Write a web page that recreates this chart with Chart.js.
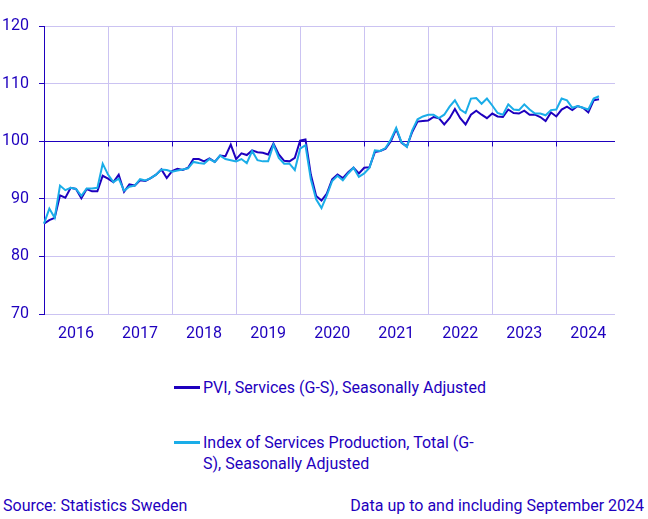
<!DOCTYPE html>
<html>
<head>
<meta charset="utf-8">
<script src="https://cdn.jsdelivr.net/npm/chart.js@4"></script>
<style>
    body { margin: 0; background: #fff; font-family: Roboto, sans-serif; color: #1E00BE; }
    #wrap { position: relative; width: 648px; height: 519px; overflow: hidden; }
    #chartBox { position: absolute; left: 0; top: 0; width: 648px; height: 350px; }
    #legend { position: absolute; left: 174px; top: 377px; }
    .item { display: flex; align-items: flex-start; margin-bottom: 34px; }
    .swatch { width: 26px; height: 3px; margin-top: 9px; margin-right: 3px; flex: none; }
    .text { width: 285px; font-size: 16px; line-height: 21px; }
    .foot { position: absolute; top: 496px; font-size: 16px; line-height: 20px; }
</style>
</head>
<body>
<div id="wrap">
    <div id="chartBox"><canvas id="chart"></canvas></div>
    <div id="legend"></div>
    <div class="foot" style="left:3px">Source: Statistics Sweden</div>
    <div class="foot" style="right:4px">Data up to and including September 2024</div>
</div>
<script>
// Monthly data, Jan 2016 - Sep 2024
const years = [2016, 2017, 2018, 2019, 2020, 2021, 2022, 2023, 2024];
const yTicks = [70, 80, 90, 100, 110, 120];

const pvi = [
    85.7, 86.3, 86.7, 90.6, 90.2, 91.9, 91.7, 90.1, 91.7, 91.3, 91.3, 94.0,
    93.5, 92.9, 94.2, 91.2, 92.5, 92.3, 93.2, 93.1, 93.6, 94.2, 95.1, 93.6,
    94.8, 95.2, 95.0, 95.4, 96.9, 96.9, 96.5, 97.0, 96.4, 97.5, 97.4, 99.4,
    96.9, 97.9, 97.6, 98.4, 98.1, 98.0, 97.7, 99.6, 97.7, 96.6, 96.5, 97.1,
    100.1, 100.3, 94.2, 90.5, 89.7, 90.9, 93.4, 94.2, 93.6, 94.6, 95.4, 94.4,
    95.4, 95.5, 98.1, 98.3, 98.7, 100.0, 102.1, 99.7, 99.1, 101.6, 103.4, 103.5,
    103.6, 104.2, 104.0, 102.9, 104.0, 105.6, 104.0, 102.9, 104.6, 105.3, 104.6, 104.0,
    104.8, 104.3, 104.2, 105.5, 104.9, 104.8, 105.3, 104.6, 104.6, 104.2, 103.5, 105.0,
    104.3, 105.5, 106.0, 105.4, 106.1, 105.8, 105.0, 107.1, 107.3
];

const services = [
    85.7, 88.3, 86.7, 92.3, 91.5, 91.9, 91.7, 90.5, 91.8, 91.8, 91.9, 96.1,
    94.2, 92.9, 93.5, 91.4, 92.1, 92.3, 93.4, 93.2, 93.6, 94.2, 95.1, 95.0,
    94.7, 94.9, 95.1, 95.3, 96.4, 96.2, 96.1, 96.9, 96.4, 97.5, 96.9, 96.7,
    96.5, 96.9, 96.2, 98.3, 96.7, 96.5, 96.5, 99.4, 97.1, 96.1, 96.1, 95.0,
    98.7, 99.3, 93.4, 89.9, 88.4, 90.6, 93.1, 94.0, 93.2, 94.4, 95.4, 93.8,
    94.4, 95.4, 98.4, 98.3, 98.8, 100.3, 102.3, 99.8, 99.0, 101.9, 103.8, 104.3,
    104.6, 104.6, 104.0, 104.6, 106.0, 107.1, 105.5, 104.9, 107.4, 107.5, 106.5, 107.4,
    106.2, 104.9, 104.6, 106.4, 105.5, 105.4, 106.4, 105.5, 104.8, 104.8, 104.5, 105.4,
    105.5, 107.4, 107.1, 105.8, 106.1, 105.8, 105.5, 107.4, 107.8
];

const seriesNames = [
    'PVI, Services (G-S), Seasonally Adjusted',
    'Index of Services Production, Total (G-S), Seasonally Adjusted'
];

const darkBlue = '#1E00BE';
const lightBlue = '#1AADE8';
const gridColor = '#CBC3F2';

// one label per month, whole of 2024 so the axis runs to December
const labels = [];
years.forEach(y => {
    for (let m = 1; m <= 12; m++) labels.push(y + '-' + String(m).padStart(2, '0'));
});

// small tick marks where the x axis crosses at 100
const crossTicks = {
    id: 'crossTicks',
    beforeDatasetsDraw(chart) {
        const x = chart.scales.x, y = chart.scales.y;
        const y0 = Math.round(y.getPixelForValue(100)) + 0.5;
        const c = chart.ctx;
        c.save();
        c.strokeStyle = darkBlue;
        c.lineWidth = 1;
        c.beginPath();
        labels.forEach((l, i) => {
            if (l.endsWith('-01')) {
                const px = Math.round(x.getPixelForValue(i)) + 0.5;
                c.moveTo(px, y0);
                c.lineTo(px, y0 + 5);
            }
        });
        c.stroke();
        c.restore();
    }
};

const ctx = document.getElementById('chart').getContext('2d');
const chart = new Chart(ctx, {
    type: 'line',
    data: {
        labels: labels,
        datasets: [{
            label: seriesNames[0],
            data: pvi,
            borderColor: darkBlue,
            borderWidth: 2,
            pointRadius: 0,
            tension: 0,
            order: 1
        }, {
            label: seriesNames[1],
            data: services,
            borderColor: lightBlue,
            borderWidth: 2,
            pointRadius: 0,
            tension: 0,
            order: 0
        }]
    },
    options: {
        responsive: true,
        maintainAspectRatio: false,
        animation: false,
        layout: { padding: { top: 26, right: 33, left: 0, bottom: 0 } },
        plugins: {
            legend: { display: false },
            tooltip: { enabled: false }
        },
        scales: {
            x: {
                offset: false,
                border: { display: false },
                grid: {
                    drawTicks: false,
                    color: c => labels[c.index] && labels[c.index].endsWith('-01') ? gridColor : 'rgba(0,0,0,0)'
                },
                ticks: {
                    autoSkip: false,
                    maxRotation: 0,
                    padding: 10,
                    color: darkBlue,
                    font: { family: 'Roboto', size: 16 },
                    callback: (v, i) => labels[i].endsWith('-07') ? labels[i].slice(0, 4) : ''
                },
                afterFit: s => { s.height = 36; }
            },
            y: {
                min: 70,
                max: 120,
                afterBuildTicks: s => { s.ticks = yTicks.map(v => ({ value: v })); },
                border: { color: darkBlue, width: 1 },
                grid: {
                    tickLength: 5,
                    tickColor: darkBlue,
                    color: c => c.tick && c.tick.value === 100 ? darkBlue : gridColor
                },
                ticks: {
                    padding: 10,
                    color: darkBlue,
                    font: { family: 'Roboto', size: 16 }
                },
                afterFit: s => { s.width = 44; }
            }
        }
    },
    plugins: [crossTicks]
});

// legend built from the datasets
const legend = document.getElementById('legend');
chart.data.datasets.forEach(ds => {
    const item = document.createElement('div');
    item.className = 'item';
    item.innerHTML = '<span class="swatch" style="background:' + ds.borderColor + '"></span>' +
        '<span class="text">' + ds.label + '</span>';
    legend.appendChild(item);
});
</script>
</body>
</html>
